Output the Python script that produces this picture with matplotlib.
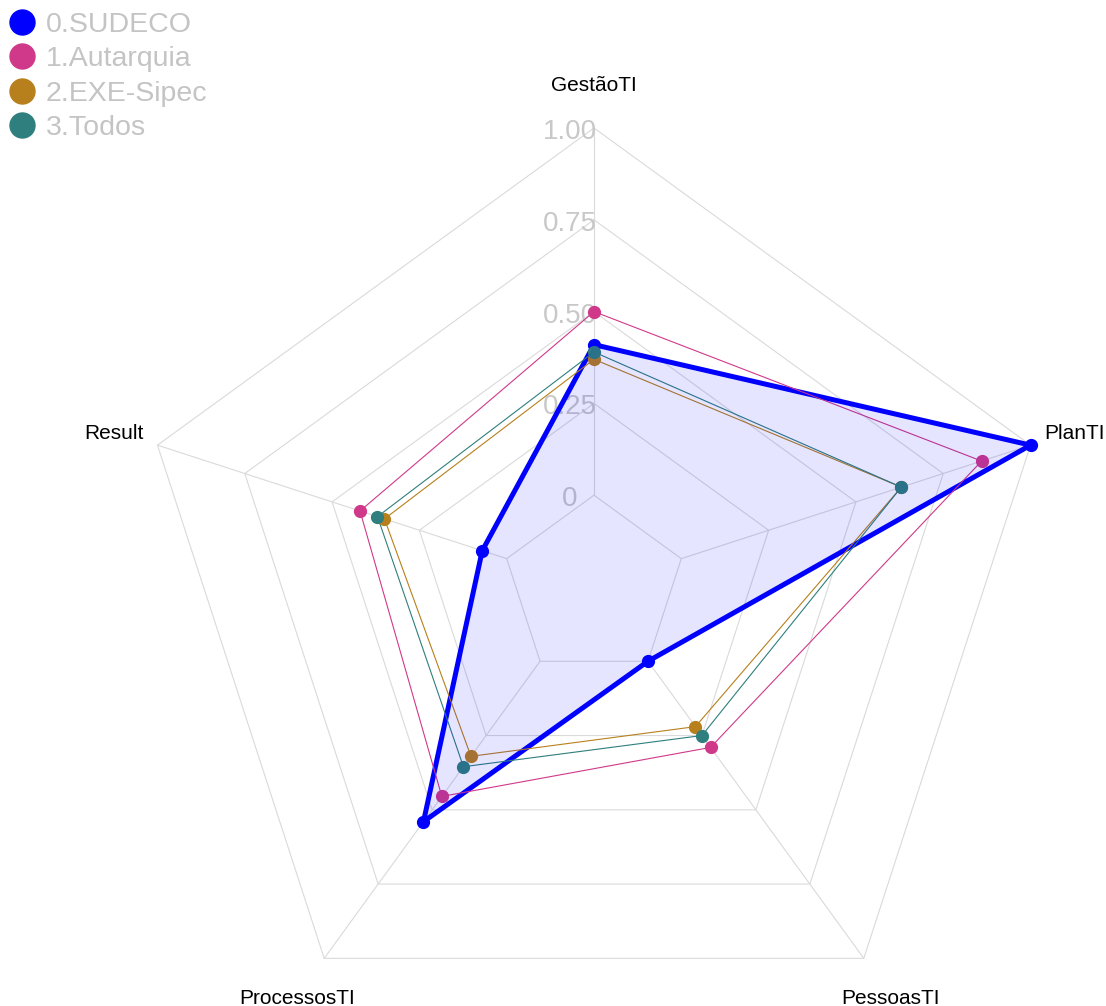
import matplotlib.pyplot as plt
import numpy as np

plt.rcParams["font.family"] = ["Liberation Sans", "DejaVu Sans"]

categories = ["GestãoTI", "PlanTI", "PessoasTI", "ProcessosTI", "Result"]
series_names = ["0.SUDECO", "1.Autarquia", "2.EXE-Sipec", "3.Todos"]
sudeco = [0.41, 1.00, 0.00, 0.54, 0.07]
autarquia = [0.50, 0.86, 0.29, 0.455, 0.42]
exe_sipec = [0.37, 0.63, 0.22, 0.32, 0.35]
todos = [0.39, 0.63, 0.25, 0.355, 0.37]
grid_levels = [0, 0.25, 0.5, 0.75, 1.0]
grid_labels = ["0", "0.25", "0.50", "0.75", "1.00"]

colors = ["#0000FF", "#D0398A", "#B8801C", "#2E7F7D"]
CENTRE = -0.25  # value mapped to the middle of the web
PX = 1 / 459  # one pixel in data units


def radius(v):
    return (np.asarray(v, dtype=float) - CENTRE) / (1 - CENTRE)


def main():
    n = len(categories)
    theta = np.deg2rad(90 - 72 * np.arange(n))
    closed = np.append(theta, theta[0])

    fig = plt.figure(figsize=(11.06, 10.06), dpi=100)
    ax = fig.add_axes([0, 0, 1, 1])
    ax.set_xlim(-594 * PX, 512 * PX)
    ax.set_ylim(-419 * PX, 587 * PX)
    ax.axis("off")

    # web: pentagons and spokes
    for g in grid_levels:
        r = radius(g)
        ax.plot(r * np.cos(closed), r * np.sin(closed), color="#DADADA", lw=0.8, zorder=1)
    r0, r1 = radius(0), radius(1)
    for t in theta:
        ax.plot([r0 * np.cos(t), r1 * np.cos(t)], [r0 * np.sin(t), r1 * np.sin(t)],
                color="#DADADA", lw=0.8, zorder=1)
    for g, lab in zip(grid_levels, grid_labels):
        ax.text(-24 * PX, radius(g) - 4 * PX, lab, ha="center", va="center",
                fontsize=20, color="#C8C8C8", zorder=2)

    for t, lab in zip(theta, categories):
        ax.text(1.1 * np.cos(t), 1.1 * np.sin(t) - 3 * PX, lab, ha="center", va="center",
                fontsize=15, color="black")

    data = [sudeco, autarquia, exe_sipec, todos]
    widths = [3.6, 0.8, 0.8, 0.8]
    for vals, c, lw in zip(data, colors, widths):
        r = radius(vals + vals[:1])
        ax.plot(r * np.cos(closed), r * np.sin(closed), color=c, lw=lw, zorder=3, solid_joinstyle="round")
    for vals, c in zip(data, colors):
        r = radius(vals)
        ax.plot(r * np.cos(theta), r * np.sin(theta), "o", color=c, markersize=8.5, zorder=4, linestyle="none")
    r = radius(sudeco)
    ax.fill(r * np.cos(theta), r * np.sin(theta), color="#0000FF", alpha=0.1, lw=0, zorder=5)

    # legend, top left
    for i, (name, c) in enumerate(zip(series_names, colors)):
        y = 1 - (22 + 34.3 * i) / 1006
        ax.plot([22 / 1106], [y], "o", color=c, markersize=18, transform=ax.transAxes, clip_on=False)
        ax.text(46 / 1106, y - 3 / 1006, name, transform=ax.transAxes, ha="left", va="center",
                fontsize=20.5, color="#C4C4C4")

    fig.savefig("out.png", dpi=100)
    plt.close(fig)


if __name__ == "__main__":
    main()
